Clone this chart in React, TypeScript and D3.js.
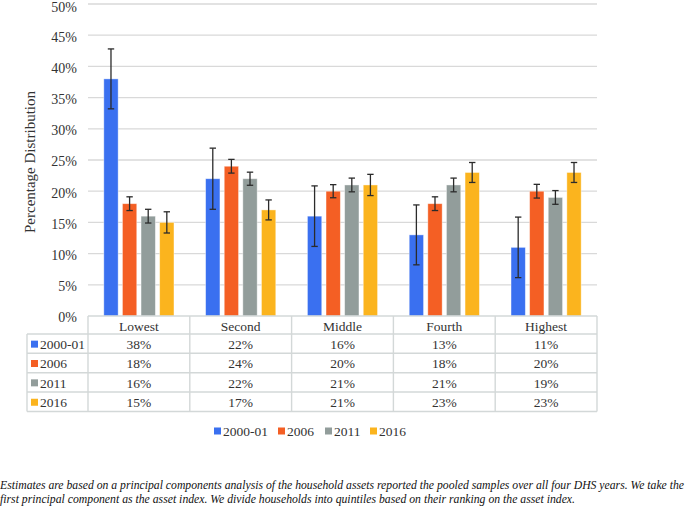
import React from "react";
import * as d3 from "d3";

const categories = ["Lowest", "Second", "Middle", "Fourth", "Highest"];
const seriesNames = ["2000-01", "2006", "2011", "2016"];
const colors = ["#3A70F0", "#F45F24", "#929D9B", "#FBB41E"];
const values2000 = [38, 22, 16, 13, 11];
const values2006 = [18, 24, 20, 18, 20];
const values2011 = [16, 22, 21, 21, 19];
const values2016 = [15, 17, 21, 23, 23];
const err2000 = [4.8, 4.9, 4.85, 4.8, 4.85];
const err2006 = [1.1, 1.1, 1.05, 1.1, 1.1];
const err2011 = [1.1, 1.05, 1.1, 1.1, 1.1];
const err2016 = [1.7, 1.6, 1.7, 1.6, 1.6];
const yTicks = [0, 5, 10, 15, 20, 25, 30, 35, 40, 45, 50];
const footnote1 =
  "Estimates are based on a principal components analysis of the household assets reported the pooled samples over all four DHS years. We take the";
const footnote2 =
  "first principal component as the asset index. We divide households into quintiles based on their ranking on the asset index.";

const seriesValues = [values2000, values2006, values2011, values2016];
const seriesErrors = [err2000, err2006, err2011, err2016];

export default function App() {
  const W = 685;
  const H = 507;
  const left = 88;
  const right = 597;
  const top = 4;
  const bottom = 316;
  const font = "Liberation Serif, DejaVu Serif, serif";
  const textColor = "#333";
  const gridColor = "#D9D9D9";
  const tableColor = "#D3D8D8";
  const ts = { fontFamily: font };

  const x = d3.scaleBand<string>().domain(categories).range([left, right]);
  const inner = d3
    .scaleBand<string>()
    .domain(seriesNames)
    .range([0, x.bandwidth()])
    .paddingInner(0.23)
    .paddingOuter(0.85);
  const y = d3.scaleLinear().domain([0, 50]).range([bottom, top]);

  const rowTops = [334, 353.3, 372.7, 392, 411.5];
  const headerTop = bottom;
  const tableLeft = 27;

  return (
    <svg
      width={W}
      height={H}
      style={{ position: "absolute", left: 0, top: 0, background: "#fff", fontFamily: font }}
    >
      {yTicks.filter((t) => t > 0).map((t) => (
        <line key={t} x1={left} x2={right} y1={y(t)} y2={y(t)} stroke={gridColor} strokeWidth={1.3} />
      ))}
      {yTicks.map((t) => (
        <text key={t} x={77} y={Math.max(y(t) + 1.5, 7)} dy="0.35em" textAnchor="end" fontSize={14} fill={textColor} style={ts}>
          {t}%
        </text>
      ))}
      <text
        transform={`translate(35,${(top + bottom) / 2 + 2}) rotate(-90)`}
        textAnchor="middle"
        fontSize={15}
        fill={textColor}
        style={ts}
      >
        Percentage Distribution
      </text>

      {categories.map((c, ci) =>
        seriesNames.map((s, si) => {
          const v = seriesValues[si][ci];
          const e = seriesErrors[si][ci];
          const bx = (x(c) as number) + (inner(s) as number);
          const bw = inner.bandwidth();
          const cx = bx + bw / 2;
          return (
            <g key={c + s}>
              <rect x={bx} y={y(v)} width={bw} height={bottom - y(v)} fill={colors[si]} stroke="#ffffff" strokeOpacity={0.5} strokeWidth={0.8} />
              <line x1={cx} x2={cx} y1={y(v + e)} y2={y(v - e)} stroke="#2b2b2b" strokeWidth={1.3} />
              <line x1={cx - 3.2} x2={cx + 3.2} y1={y(v + e)} y2={y(v + e)} stroke="#2b2b2b" strokeWidth={1.3} />
              <line x1={cx - 3.2} x2={cx + 3.2} y1={y(v - e)} y2={y(v - e)} stroke="#2b2b2b" strokeWidth={1.3} />
            </g>
          );
        })
      )}

      <g stroke={tableColor} strokeWidth={1.4} fill="none">
        <line x1={left} x2={right} y1={headerTop} y2={headerTop} />
        {rowTops.map((ry, i) => (
          <line key={i} x1={tableLeft} x2={right} y1={ry} y2={ry} />
        ))}
        <line x1={tableLeft} x2={tableLeft} y1={rowTops[0]} y2={rowTops[4]} />
        {categories.map((c) => (
          <line key={c} x1={x(c) as number} x2={x(c) as number} y1={headerTop} y2={rowTops[4]} />
        ))}
        <line x1={right} x2={right} y1={headerTop} y2={rowTops[4]} />
      </g>
      {categories.map((c) => (
        <text
          key={c}
          x={(x(c) as number) + x.bandwidth() / 2}
          y={(headerTop + rowTops[0]) / 2 + 1}
          dy="0.35em"
          textAnchor="middle"
          fontSize={13.5}
          fill={textColor}
          style={ts}
        >
          {c}
        </text>
      ))}
      {seriesNames.map((s, si) => {
        const cy = (rowTops[si] + rowTops[si + 1]) / 2 + 0.5;
        return (
          <g key={s}>
            <rect x={31} y={cy - 3.5} width={7} height={7} fill={colors[si]} />
            <text x={40} y={cy} dy="0.35em" fontSize={13.5} fill={textColor} style={ts}>
              {s}
            </text>
            {categories.map((c, ci) => (
              <text
                key={c}
                x={(x(c) as number) + x.bandwidth() / 2}
                y={cy}
                dy="0.35em"
                textAnchor="middle"
                fontSize={13.5}
                fill={textColor}
                style={ts}
              >
                {seriesValues[si][ci]}%
              </text>
            ))}
          </g>
        );
      })}

      {(() => {
        const starts = [214, 278, 325, 370];
        return seriesNames.map((s, si) => (
          <g key={s}>
            <rect x={starts[si]} y={431 - 3.5} width={7} height={7} fill={colors[si]} />
            <text x={starts[si] + 9} y={431.5} dy="0.35em" fontSize={13.5} fill={textColor} style={ts}>
              {s}
            </text>
          </g>
        ));
      })()}

      <text x={0} y={489} fontSize={11.5} fontStyle="italic" fill="#111" style={ts} textLength={684} lengthAdjust="spacingAndGlyphs">
        {footnote1}
      </text>
      <text x={0} y={503} fontSize={11.5} fontStyle="italic" fill="#111" style={ts} textLength={575} lengthAdjust="spacingAndGlyphs">
        {footnote2}
      </text>
    </svg>
  );
}
